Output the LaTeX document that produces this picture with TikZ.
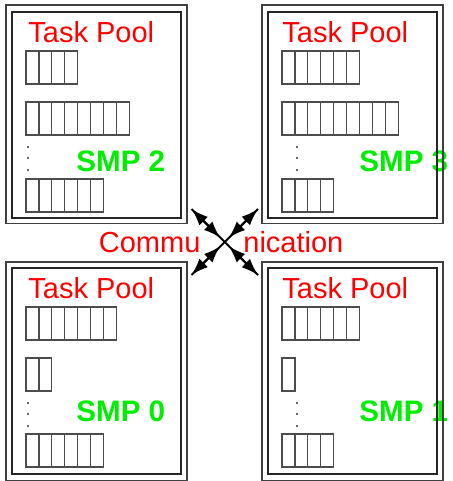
\documentclass[tikz,border=0pt]{standalone}
\usepackage{fontspec}
\setmainfont{Liberation Sans}
\usetikzlibrary{positioning,arrows.meta}
\definecolor{poolred}{RGB}{255,0,0}
\definecolor{smpgreen}{RGB}{0,238,0}

\begin{document}
\begin{tikzpicture}[x=0.5pt,y=-0.5pt]
\tikzstyle{outer}=[rectangle, draw=black!75, line width=0.6pt, minimum width=90.5pt, minimum height=109.25pt, inner sep=0, outer sep=0, anchor=north west]
\tikzstyle{inner}=[rectangle, draw=black!85, line width=0.6pt, minimum width=84.5pt, minimum height=103pt, inner sep=0, outer sep=0, anchor=north west]
\tikzstyle{queue}=[rectangle, draw=black!70, line width=0.6pt, minimum height=16.5pt, inner sep=0, outer sep=0, anchor=north west]
\tikzstyle{divider}=[draw=black!70, line width=0.6pt]
\tikzstyle{dot}=[circle, fill=black!80, minimum size=1.1pt, inner sep=0]
\tikzstyle{pool}=[anchor=base west, inner sep=0, text=poolred, font=\fontsize{14.5pt}{16pt}\selectfont]
\tikzstyle{smp}=[anchor=base west, inner sep=0, text=smpgreen, font=\fontsize{14.8pt}{16pt}\selectfont\bfseries]
\tikzstyle{comm}=[anchor=base west, inner sep=0, text=poolred, font=\fontsize{14.5pt}{16pt}\selectfont]
\tikzstyle{axis}=[line width=1pt, black]
\tikzstyle{connect}=[{Latex[length=8.5pt,width=6pt]}-{Latex[length=8.5pt,width=6pt]}, line width=1pt, draw=black]
\useasboundingbox (0,0) rectangle (452,481);
	% labels first, the box lines run over them
	\node[smp] (smp2) at (76,171) {SMP 2};
	\node[smp] (smp3) at (359,171) {SMP 3};
	\node[smp] (smp0) at (76,421) {SMP 0};
	\node[smp] (smp1) at (359,421) {SMP 1};
	\node[pool] (pool2) at (28,43) {Task Pool};
	\node[pool] (pool3) at (282,43) {Task Pool};
	\node[pool] (pool0) at (28,298) {Task Pool};
	\node[pool] (pool1) at (282,298) {Task Pool};

	% the four SMP boxes
	\node[outer] (box2) at (6,5) {};
	\node[inner] (in2) at (12,12) {};
	\node[outer] (box3) at (262,5) {};
	\node[inner] (in3) at (268,12) {};
	\node[outer] (box0) at (6,262) {};
	\node[inner] (in0) at (12,268) {};
	\node[outer] (box1) at (262,262) {};
	\node[inner] (in1) at (268,268) {};

	% queues of SMP 2
	\node[queue, minimum width=4*6.45pt] (q2a) at (26,51) {};
	\node[queue, minimum width=8*6.45pt] (q2b) at (26,102) {};
	\node[queue, minimum width=6*6.45pt] (q2c) at (26,179) {};
	\foreach \i in {1,...,3} \draw[divider] (26+12.9*\i,51) -- ++(0,33);
	\foreach \i in {1,...,7} \draw[divider] (26+12.9*\i,102) -- ++(0,33);
	\foreach \i in {1,...,5} \draw[divider] (26+12.9*\i,179) -- ++(0,33);
	% queues of SMP 3
	\node[queue, minimum width=6*6.45pt] (q3a) at (282,51) {};
	\node[queue, minimum width=9*6.45pt] (q3b) at (282,102) {};
	\node[queue, minimum width=4*6.45pt] (q3c) at (282,179) {};
	\foreach \i in {1,...,5} \draw[divider] (282+12.9*\i,51) -- ++(0,33);
	\foreach \i in {1,...,8} \draw[divider] (282+12.9*\i,102) -- ++(0,33);
	\foreach \i in {1,...,3} \draw[divider] (282+12.9*\i,179) -- ++(0,33);
	% queues of SMP 0
	\node[queue, minimum width=7*6.45pt] (q0a) at (26,307) {};
	\node[queue, minimum width=2*6.45pt] (q0b) at (26,358) {};
	\node[queue, minimum width=6*6.45pt] (q0c) at (26,434) {};
	\foreach \i in {1,...,6} \draw[divider] (26+12.9*\i,307) -- ++(0,33);
	\draw[divider] (38.9,358) -- ++(0,33);
	\foreach \i in {1,...,5} \draw[divider] (26+12.9*\i,434) -- ++(0,33);
	% queues of SMP 1
	\node[queue, minimum width=6*6.45pt] (q1a) at (282,307) {};
	\node[queue, minimum width=6.45pt] (q1b) at (282,358) {};
	\node[queue, minimum width=4*6.45pt] (q1c) at (282,434) {};
	\foreach \i in {1,...,5} \draw[divider] (282+12.9*\i,307) -- ++(0,33);
	\foreach \i in {1,...,3} \draw[divider] (282+12.9*\i,434) -- ++(0,33);

	% dots
	\foreach \y in {147,158,170} {
		\node[dot] at (28,\y) {};
		\node[dot] at (297,\y) {};
	}
	\foreach \y in {403,414,426} {
		\node[dot] at (28,\y) {};
		\node[dot] at (297,\y) {};
	}

	% communication cross
	\node[comm] (commA) at (98.5,252.5) {Commu};
	\node[comm] (commB) at (243,252.5) {nication};
	\coordinate (hub) at (224.5,242);
	\coordinate (nw) at (191.5,209);
	\coordinate (ne) at (258,209);
	\coordinate (sw) at (191.5,275);
	\coordinate (se) at (258,275);
	\coordinate (nwi) at (220.3,237.8);
	\coordinate (nei) at (228.7,237.8);
	\coordinate (swi) at (220.3,246.2);
	\coordinate (sei) at (228.7,246.2);
	\draw[axis] (nw) -- (se);
	\draw[axis] (ne) -- (sw);
	\path
		(nwi) edge [connect] (nw)
		(nei) edge [connect] (ne)
		(swi) edge [connect] (sw)
		(sei) edge [connect] (se);
\end{tikzpicture}
\end{document}
